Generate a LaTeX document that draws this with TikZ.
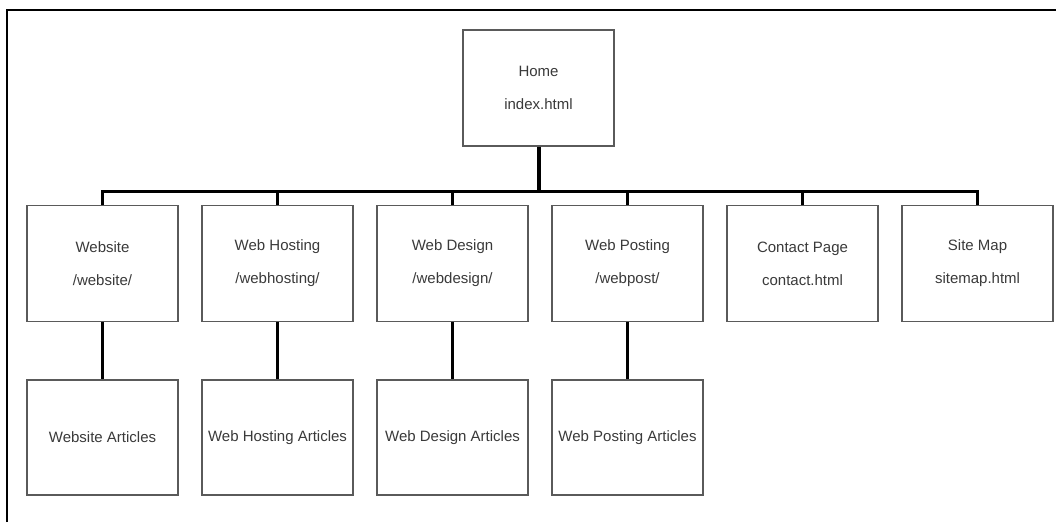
\documentclass[tikz,border=0pt]{standalone}
\usepackage{fontspec}
\setmainfont{Liberation Sans}
\begin{document}
\definecolor{boxline}{HTML}{5A5A5A}
\definecolor{boxtext}{HTML}{3A3A3A}
\begin{tikzpicture}[x=1pt,y=-1pt,
  page/.style={draw=boxline, line width=1.4pt, fill=white,
    minimum width=151pt, minimum height=116pt, inner sep=0pt,
    align=center, text=boxtext,
    font=\fontsize{15}{33}\selectfont},
  trunk/.style={line width=4pt, black},
  busline/.style={line width=3pt, black, line cap=rect},
  stub/.style={line width=3pt, black},
  down/.style={line width=3.5pt, black}]
  % canvas
  \useasboundingbox (0,0) rectangle (1056,522);
  \fill[white] (0,0) rectangle (1056,522);
  % outer frame (open to the right and bottom)
  \draw[line width=2pt, black] (7,522) -- (7,10) -- (1056,10);

  % home page
  \node[page] (home) at (538.5,88) {Home\\index.html};

  % first level
  \node[page] (website) at (102.5,263.5) {Website\\/website/};
  \node[page] (hosting) at (277.5,263.5) {Web Hosting\\/webhosting/};
  \node[page] (design)  at (452.5,263.5) {Web Design\\/webdesign/};
  \node[page] (posting) at (627.5,263.5) {Web Posting\\/webpost/};
  \node[page] (contact) at (802.5,263.5) {Contact Page\\contact.html};
  \node[page] (sitemap) at (977.5,263.5) {Site Map\\sitemap.html};

  % article pages
  \node[page, minimum height=115pt] (websiteA) at (102.5,437.5) {Website Articles};
  \node[page, minimum height=115pt] (hostingA) at (277.5,437.5) {Web Hosting Articles};
  \node[page, minimum height=115pt] (designA)  at (452.5,437.5) {Web Design Articles};
  \node[page, minimum height=115pt] (postingA) at (627.5,437.5) {Web Posting Articles};

  % bus connecting home to the first level
  \coordinate (busL) at (102.5,191);
  \coordinate (busR) at (977.5,191);
  \draw[trunk] (home.south) -- (home.south |- busL);
  \draw[busline] (busL) -- (busR);
  \foreach \c in {website,hosting,design,posting,contact,sitemap}
    \draw[stub] (\c.north) -- (\c.north |- busL);

  % first level to article pages
  \draw[down] (website.south) -- (websiteA.north);
  \draw[down] (hosting.south) -- (hostingA.north);
  \draw[down] (design.south) -- (designA.north);
  \draw[down] (posting.south) -- (postingA.north);
\end{tikzpicture}
\end{document}
